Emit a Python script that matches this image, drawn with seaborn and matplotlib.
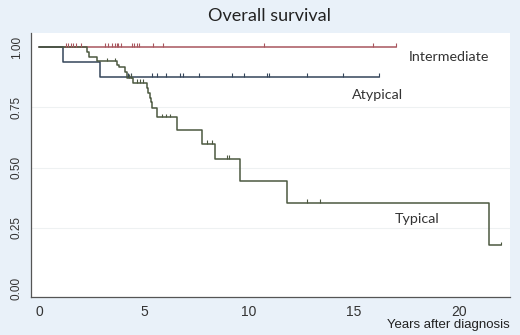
import numpy as np
import pandas as pd
import matplotlib
matplotlib.use("Agg")
import matplotlib.pyplot as plt
import seaborn as sns

# Kaplan-Meier steps (years, survival)
groups = ["Intermediate", "Atypical", "Typical"]

inter_t = [0.0]
inter_s = [1.0]
inter_end = 17.0
inter_cens = [1.29, 1.40, 1.52, 1.63, 1.76, 2.0, 3.14, 3.30, 3.46, 3.62, 3.70,
              3.78, 3.89, 4.41, 4.52, 4.65, 4.78, 5.41, 5.89, 10.7, 15.9, 17.0]

atyp_t = [0.0, 1.16, 2.9]
atyp_s = [1.0, 0.9375, 0.875]
atyp_end = 16.2
atyp_cens = [4.25, 4.37, 5.37, 5.63, 6.05, 6.71, 6.87, 7.63, 9.17, 9.76,
             10.87, 10.95, 12.75, 14.46, 16.2]

typ_t = [0.0, 2.27, 2.4, 2.75, 3.7, 3.8, 4.1, 4.17, 4.46, 5.13, 5.19, 5.27,
         5.33, 5.4, 5.6, 6.59, 7.75, 8.38, 9.57, 11.8, 21.4]
typ_s = [1.0, 0.98, 0.96, 0.94, 0.925, 0.918, 0.898, 0.873, 0.85, 0.83, 0.81,
         0.79, 0.77, 0.748, 0.708, 0.655, 0.598, 0.534, 0.445, 0.354, 0.177]
typ_end = 22.0
typ_cens = [3.25, 3.62, 4.3, 4.37, 4.65, 4.8, 4.97, 5.84, 6.03, 6.24, 7.98,
            8.25, 8.94, 9.05, 12.78, 13.38, 22.0]

colors = {"Intermediate": "#a8565e", "Atypical": "#34455a", "Typical": "#4c5840"}

label_pos = {"Intermediate": (17.6, 0.958), "Atypical": (14.9, 0.80),
             "Typical": (16.95, 0.285)}

curves = {
    "Intermediate": (inter_t, inter_s, inter_end, inter_cens),
    "Atypical": (atyp_t, atyp_s, atyp_end, atyp_cens),
    "Typical": (typ_t, typ_s, typ_end, typ_cens),
}

rows = []
for g in groups:
    t, s, end, _ = curves[g]
    for ti, si in zip(t + [end], s + [s[-1]]):
        rows.append({"group": g, "time": ti, "surv": si})
df = pd.DataFrame(rows)

sns.set_style("white")
plt.rcParams["font.family"] = ["Liberation Sans", "DejaVu Sans"]

fig = plt.figure(figsize=(5.2, 3.35), dpi=100)
fig.patch.set_facecolor("#e9f1f9")
ax = fig.add_axes([0.0596, 0.1134, 0.9215, 0.7881])
ax.set_facecolor("white")

for yv in [0.25, 0.5, 0.75]:
    ax.axhline(yv, color="#eef1f2", lw=0.8, zorder=0)

sns.lineplot(data=df, x="time", y="surv", hue="group", palette=colors,
             estimator=None, sort=False, drawstyle="steps-post", lw=1.1,
             legend=False, ax=ax)

# censoring ticks
for g in groups:
    t, s, end, cens = curves[g]
    cens = np.array(cens)
    idx = np.searchsorted(t, cens, side="right") - 1
    yc = np.array(s)[idx]
    ax.vlines(cens, yc, yc + 0.016, color=colors[g], lw=0.8)

for g in groups:
    x, y = label_pos[g]
    ax.text(x, y, g, fontsize=10.3, family=["Lato", "DejaVu Sans"],
            color="#333333", va="center", ha="left")

ax.set_xlim(-0.38, 22.43)
ax.set_ylim(-0.037, 1.058)
ax.set_xticks([0, 5, 10, 15, 20])
ax.set_yticks([0, 0.25, 0.5, 0.75, 1.0])
ax.set_yticklabels(["0.00", "0.25", "0.50", "0.75", "1.00"], rotation=90,
                   va="center", fontsize=8.5)
ax.tick_params(axis="x", labelsize=10, length=4, width=0.8, color="#555555", pad=2)
ax.tick_params(axis="y", length=4, width=0.8, color="#555555", pad=2)
for lab in ax.get_xticklabels() + ax.get_yticklabels():
    lab.set_color("#333333")

sns.despine(ax=ax)
for sp in ["left", "bottom"]:
    ax.spines[sp].set_color("#555555")
    ax.spines[sp].set_linewidth(0.9)

ax.set_ylabel("")
ax.set_xlabel("Years after diagnosis", loc="right", fontsize=9.5,
              color="#222222", labelpad=0)

fig.text(0.519, 0.953, "Overall survival", ha="center", va="center",
         fontsize=13, family=["Lato", "DejaVu Sans"], color="#222222")

fig.savefig("out.png", dpi=100, facecolor=fig.get_facecolor())
